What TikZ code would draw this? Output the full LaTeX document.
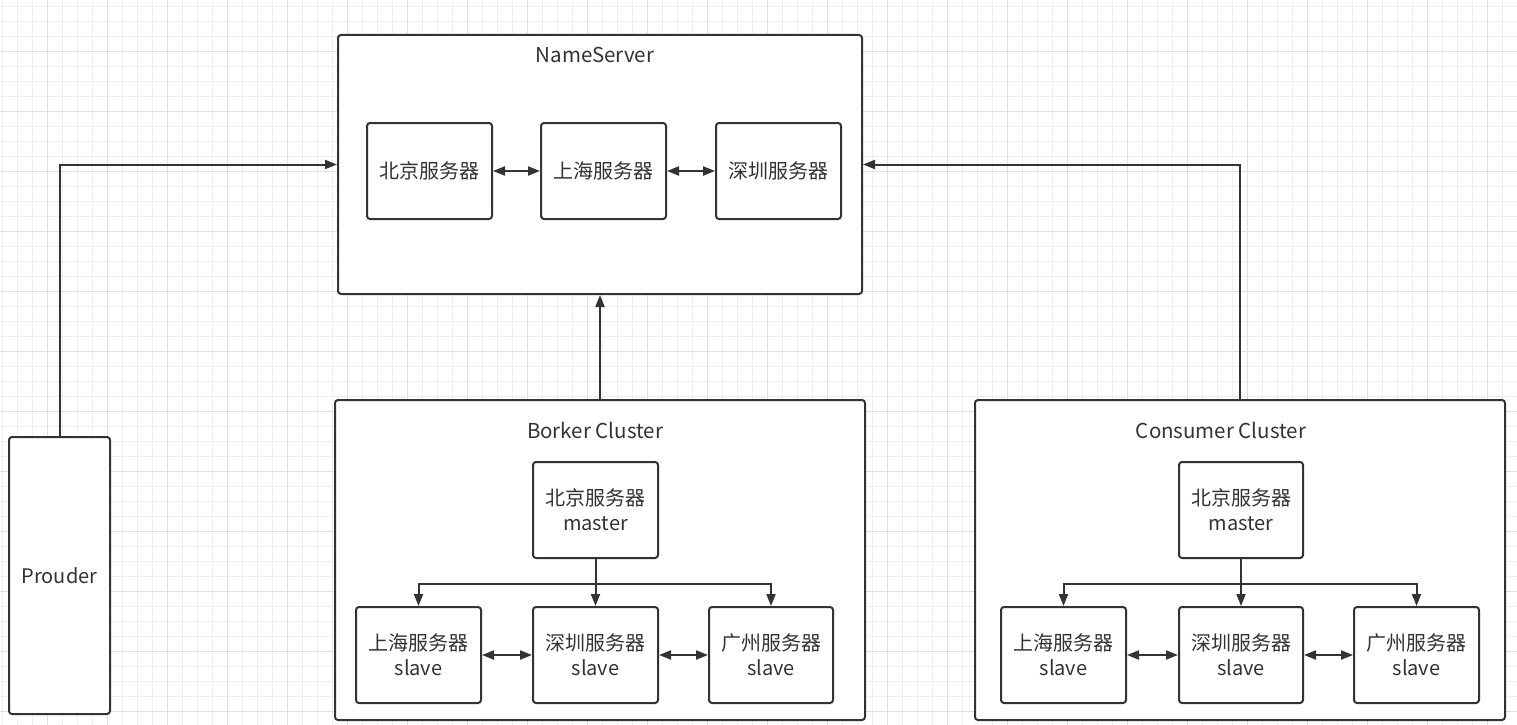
\documentclass[tikz,border=0pt]{standalone}
\usepackage{fontspec}
\setmainfont{Noto Sans CJK SC}
\usetikzlibrary{arrows.meta}
\definecolor{linec}{HTML}{333333}
\definecolor{textc}{HTML}{333333}
\definecolor{gridminor}{HTML}{EFEFEF}
\definecolor{gridmajor}{HTML}{E0E0E0}
\begin{document}
\begin{tikzpicture}[x=1pt,y=-1pt,
  box/.style={draw=linec, line width=2pt, rounded corners=3pt, fill=white, inner sep=0pt, text=textc, font=\fontsize{20}{25}\selectfont, align=center},
  ttl/.style={text=textc, font=\fontsize{20.5}{24}\selectfont, inner sep=0pt},
  arr/.style={draw=linec, line width=2pt, -{Triangle[length=12pt,width=9pt]}},
  darr/.style={draw=linec, line width=2pt, {Triangle[length=12pt,width=9pt]}-{Triangle[length=12pt,width=9pt]}},
  minorl/.style={draw=gridminor, line width=0.8pt},
  majorl/.style={draw=gridmajor, line width=0.9pt}
]
\useasboundingbox (0,0) rectangle (1517,725);
\fill[white] (0,0) rectangle (1517,725);
% grid
\foreach \i in {0,...,101} { \draw[minorl] ({2.3+15*\i},0) -- ({2.3+15*\i},725); }
\foreach \i in {0,...,48} { \draw[minorl] (0,{6.7+15*\i}) -- (1517,{6.7+15*\i}); }
\foreach \i in {0,...,25} { \draw[majorl] ({47.3+60*\i},0) -- ({47.3+60*\i},725); }
\foreach \i in {0,...,11} { \draw[majorl] (0,{51.7+60*\i}) -- (1517,{51.7+60*\i}); }

% containers
\node[box, minimum width=524pt, minimum height=259pt] (ns) at (600,164.5) {};
\node[box, minimum width=530pt, minimum height=320pt] (bc) at (600,560) {};
\node[box, minimum width=530pt, minimum height=320pt] (cc) at (1240,560) {};
\node[box, minimum width=101pt, minimum height=277pt] (pr) at (59.5,575.5) {Prouder};

% titles
\node[ttl] (nst) at (595,55) {NameServer};
\node[ttl] (bct) at (595,430) {Borker Cluster};
\node[ttl] (cct) at (1221,430) {Consumer Cluster};

% nameserver inner
\node[box, minimum width=125pt, minimum height=96pt] (nbj) at (429.5,171) {北京服务器};
\node[box, minimum width=125pt, minimum height=96pt] (nsh) at (603.5,171) {上海服务器};
\node[box, minimum width=125pt, minimum height=96pt] (nsz) at (778.5,171) {深圳服务器};

% broker
\node[box, minimum width=125pt, minimum height=96pt] (bm) at (595.5,510) {北京服务器\\master};
\node[box, minimum width=125pt, minimum height=96pt] (bs1) at (418.5,655) {上海服务器\\slave};
\node[box, minimum width=125pt, minimum height=96pt] (bs2) at (595.5,655) {深圳服务器\\slave};
\node[box, minimum width=124pt, minimum height=96pt] (bs3) at (771,655) {广州服务器\\slave};

% consumer
\node[box, minimum width=124pt, minimum height=96pt] (cm) at (1241,510) {北京服务器\\master};
\node[box, minimum width=125pt, minimum height=96pt] (cs1) at (1063.5,655) {上海服务器\\slave};
\node[box, minimum width=124pt, minimum height=96pt] (cs2) at (1241,655) {深圳服务器\\slave};
\node[box, minimum width=125pt, minimum height=96pt] (cs3) at (1416.5,655) {广州服务器\\slave};

% connectors
\draw[arr] (pr.north) |- (ns.west);
\draw[arr] (cc.north) |- (ns.east);
\draw[arr] (bc.north) -- (ns.south);
\draw[darr] (nbj.east) -- (nsh.west);
\draw[darr] (nsh.east) -- (nsz.west);

\draw[arr] (bm.south) -- (bs2.north);
\draw[arr] (bm.south) -- ++(0,25) -| (bs1.north);
\draw[arr] (bm.south) -- ++(0,25) -| (bs3.north);
\draw[darr] (bs1.east) -- (bs2.west);
\draw[darr] (bs2.east) -- (bs3.west);

\draw[arr] (cm.south) -- (cs2.north);
\draw[arr] (cm.south) -- ++(0,25) -| (cs1.north);
\draw[arr] (cm.south) -- ++(0,25) -| (cs3.north);
\draw[darr] (cs1.east) -- (cs2.west);
\draw[darr] (cs2.east) -- (cs3.west);
\end{tikzpicture}
\end{document}
